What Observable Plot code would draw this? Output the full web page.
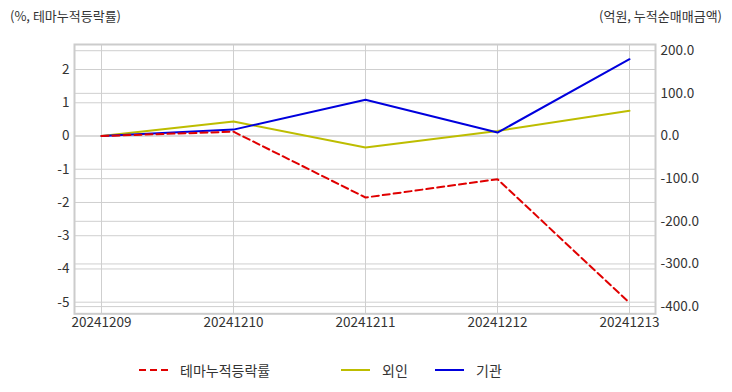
<!DOCTYPE html>
<html><head><meta charset="utf-8">
<script src="https://cdn.jsdelivr.net/npm/d3@7"></script>
<script src="https://cdn.jsdelivr.net/npm/@observablehq/plot@0.6"></script>
<style>
body{margin:0;background:#fff;font-family:"Noto Sans CJK KR","Noto Sans",sans-serif;color:#333}
#wrap{position:relative;width:732px;height:392px;overflow:hidden}
#head{position:relative;height:30px}
.t{position:absolute;top:6px;font-size:13px;line-height:20px;white-space:nowrap}
#chart svg{display:block}
#legend{position:absolute;left:0;top:360px;width:732px;height:20px;font-size:14px}
.li{position:absolute;top:0;height:20px;display:flex;align-items:center;white-space:nowrap}
.li svg{margin-right:12px}
</style></head><body>
<div id="wrap">
  <div id="head">
    <div class="t" style="left:10px">(%, 테마누적등락률)</div>
    <div class="t" style="right:10px">(억원, 누적순매매금액)</div>
  </div>
  <div id="chart"></div>
  <div id="legend"></div>
</div>
<script>
const dates = ["20241209","20241210","20241211","20241212","20241213"];
const themeRet = [0, 0.13, -1.85, -1.30, -5.02];
const foreign = [0, 34, -27, 12, 59];
const inst = [0, 15, 85, 8, 180];
const leftTicks = [-5,-4,-3,-2,-1,0,1,2];
const rightTicks = [-400,-300,-200,-100,0,100,200];
const seriesNames = ["테마누적등락률","외인","기관"];
const seriesColors = ["#e00000","#bdbd00","#0000dd"];

const k = 0.4265/33.24; // right-axis unit in left-axis units
const themeData = dates.map((d,i)=>({d, v: themeRet[i]}));
const forData = dates.map((d,i)=>({d, v: foreign[i]*k}));
const instData = dates.map((d,i)=>({d, v: inst[i]*k}));

const plot = Plot.plot({
  width: 732, height: 320,
  marginLeft: 74, marginRight: 77, marginTop: 14, marginBottom: 36.7,
  style: {fontFamily: '"Noto Sans CJK KR","Noto Sans",sans-serif', fontSize: "13.5px", color: "#333", background: "#fff"},
  x: {type: "point", domain: dates, padding: 0.195, label: null},
  y: {domain: [-5.349, 2.753], label: null},
  marks: [
    Plot.ruleY(leftTicks, {stroke: "#cfcfcf", strokeWidth: 1}),
    Plot.ruleY(rightTicks.map(v=>v*k), {stroke: "#cfcfcf", strokeWidth: 1}),
    Plot.ruleX(dates, {stroke: "#cfcfcf", strokeWidth: 1}),
    Plot.frame({stroke: "#cccccc", strokeWidth: 2}),
    Plot.axisY(leftTicks, {anchor: "left", tickSize: 0, tickPadding: 5, tickFormat: d => String(d), label: null, fill: "#333"}),
    Plot.axisY(rightTicks.map(v=>v*k), {anchor: "right", tickSize: 0, tickPadding: 5, tickFormat: d => Math.round(d/k).toFixed(1), label: null, fill: "#333"}),
    Plot.axisX(dates, {anchor: "bottom", tickSize: 0, tickPadding: 4, label: null, fill: "#333"}),
    Plot.line(forData, {x: "d", y: "v", stroke: seriesColors[1], strokeWidth: 2}),
    Plot.line(instData, {x: "d", y: "v", stroke: seriesColors[2], strokeWidth: 2}),
    Plot.line(themeData, {x: "d", y: "v", stroke: seriesColors[0], strokeWidth: 2, strokeDasharray: "7,4"})
  ]
});
document.getElementById("chart").appendChild(plot);

const legendPos = [139, 341, 435];
const leg = document.getElementById("legend");
seriesNames.forEach((n,i)=>{
  const div = document.createElement("div");
  div.className = "li";
  div.style.left = legendPos[i] + "px";
  const dash = i === 0 ? ' stroke-dasharray="7,4"' : '';
  div.innerHTML = `<svg width="29" height="4"><line x1="0" y1="2" x2="29" y2="2" stroke="${seriesColors[i]}" stroke-width="2"${dash}/></svg><span>${n}</span>`;
  leg.appendChild(div);
});
</script>
</body></html>
